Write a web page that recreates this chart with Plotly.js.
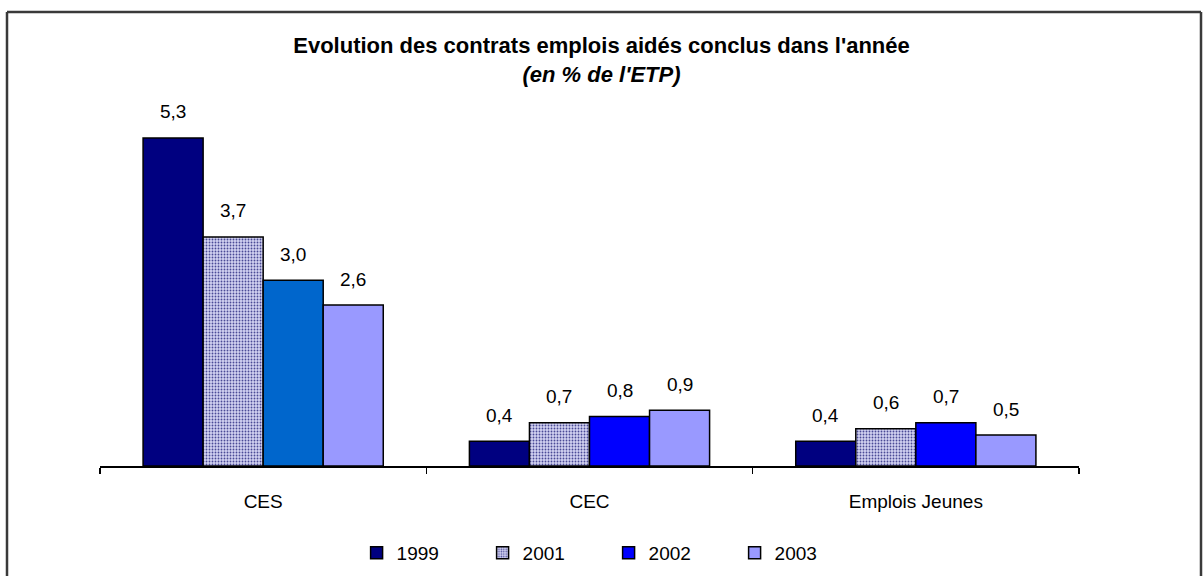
<!DOCTYPE html>
<html>
<head>
<meta charset="utf-8">
<script src="https://cdn.plot.ly/plotly-3.0.1.min.js"></script>
<style>html,body{margin:0;padding:0;background:#fff;}#chart{width:1203px;height:576px;}</style>
</head>
<body>
<div id="chart"></div>
<script>
// ---- data ----
const categories = ["CES", "CEC", "Emplois Jeunes"];
const years = ["1999", "2001", "2002", "2003"];
const v1999 = [5.3, 0.4, 0.4];
const v2001 = [3.7, 0.7, 0.6];
const v2002 = [3.0, 0.8, 0.7];
const v2003 = [2.6, 0.9, 0.5];
const seriesValues = [v1999, v2001, v2002, v2003];

// ---- styles ----
const colors1999 = ["#000080", "#000080", "#000080"];
const colors2002 = ["#0066CC", "#0000FF", "#0000FF"];
const colors2003 = ["#9999FF", "#9999FF", "#9999FF"];
const legend2002 = "#0000FF";
const bargap = 0.264;
const font = "Arial, 'Liberation Sans', sans-serif";

const line = {color: "#000000", width: 1.5};
const traces = [
  {type: "bar", name: years[0], legendrank: 1, x: categories, y: v1999, marker: {color: colors1999, line: line}},
  {type: "bar", name: years[1], legendrank: 2, x: categories, y: v2001,
   marker: {color: "#c8c8ec", line: line,
            pattern: {shape: ".", bgcolor: "#d2d2f2", fgcolor: "#4a4a96", size: 3, solidity: 0.3}}},
  {type: "bar", name: years[2], showlegend: false, x: categories, y: v2002, marker: {color: colors2002, line: line}},
  {type: "bar", name: years[3], legendrank: 4, x: categories, y: v2003, marker: {color: colors2003, line: line}},
  // legend entry for 2002 (drawn on a hidden axis pair, bars out of view)
  {type: "bar", name: years[2], legendrank: 3, x: categories, y: v2002.map(() => 0),
   xaxis: "x2", yaxis: "y2", marker: {color: legend2002, line: line}}
];
traces.forEach(t => { t.hoverinfo = "none"; });

// value labels above bars
const annotations = [];
const groupW = 1 - bargap;
const barW = groupW / years.length;
seriesValues.forEach((vals, s) => {
  const off = -groupW / 2 + (s + 0.5) * barW;
  vals.forEach((v, c) => {
    annotations.push({
      x: c + off, y: v, xref: "x", yref: "y",
      text: v.toFixed(1).replace(".", ","),
      showarrow: false, yanchor: "middle", yshift: 26,
      font: {family: font, size: 19, color: "#000"}
    });
  });
});

// plot geometry (pixels) used for the outer frame
const L = 100, R = 124, T = 100, B = 110, W = 1203, H = 576;
const pw = W - L - R, ph = H - T - B;
const px = x => (x - L) / pw;
const py = y => (H - B - y) / ph;
const frame = {color: "#3a3a3a", width: 2.5};
const shapes = [
  {type: "line", xref: "paper", yref: "paper", x0: px(7), x1: px(7), y0: py(12), y1: py(600), line: frame},
  {type: "line", xref: "paper", yref: "paper", x0: px(7), x1: px(1201), y0: py(12), y1: py(12), line: frame},
  {type: "line", xref: "paper", yref: "paper", x0: px(1201), x1: px(1201), y0: py(12), y1: py(600), line: frame}
];

const layout = {
  width: W, height: H,
  margin: {l: L, r: R, t: T, b: B},
  paper_bgcolor: "#ffffff", plot_bgcolor: "#ffffff",
  separators: ", ",
  barmode: "group", bargap: bargap, bargroupgap: 0,
  title: {
    text: "<b>Evolution des contrats emplois aidés conclus dans l'année</b><br><b><i>(en % de l'ETP)</i></b>",
    font: {family: font, size: 22, color: "#000"},
    x: 0.5, xref: "container", xanchor: "center",
    y: 1 - 53 / H, yref: "container", yanchor: "top"
  },
  xaxis: {
    type: "category", showline: true, linecolor: "#000", linewidth: 1.5,
    ticks: "outside", tickson: "boundaries", ticklen: 6, tickwidth: 1.5, tickcolor: "#000",
    tickfont: {family: font, size: 19, color: "#000"}, ticklabelstandoff: 18,
    showgrid: false, zeroline: false, fixedrange: true
  },
  yaxis: {
    range: [0, 366 / 61.9], visible: false, showgrid: false, zeroline: false, fixedrange: true
  },
  xaxis2: {type: "category", overlaying: "x", visible: false, fixedrange: true},
  yaxis2: {overlaying: "y", range: [1, 2], visible: false, fixedrange: true},
  showlegend: true,
  legend: {
    orientation: "h", x: 0.5059, xref: "container", xanchor: "center",
    y: 1 - 553 / H, yref: "container", yanchor: "middle",
    font: {family: font, size: 19, color: "#000"},
    entrywidth: 81, traceorder: "normal"
  },
  annotations: annotations,
  shapes: shapes
};

Plotly.newPlot("chart", traces, layout, {displayModeBar: false, staticPlot: true});
</script>
</body>
</html>
